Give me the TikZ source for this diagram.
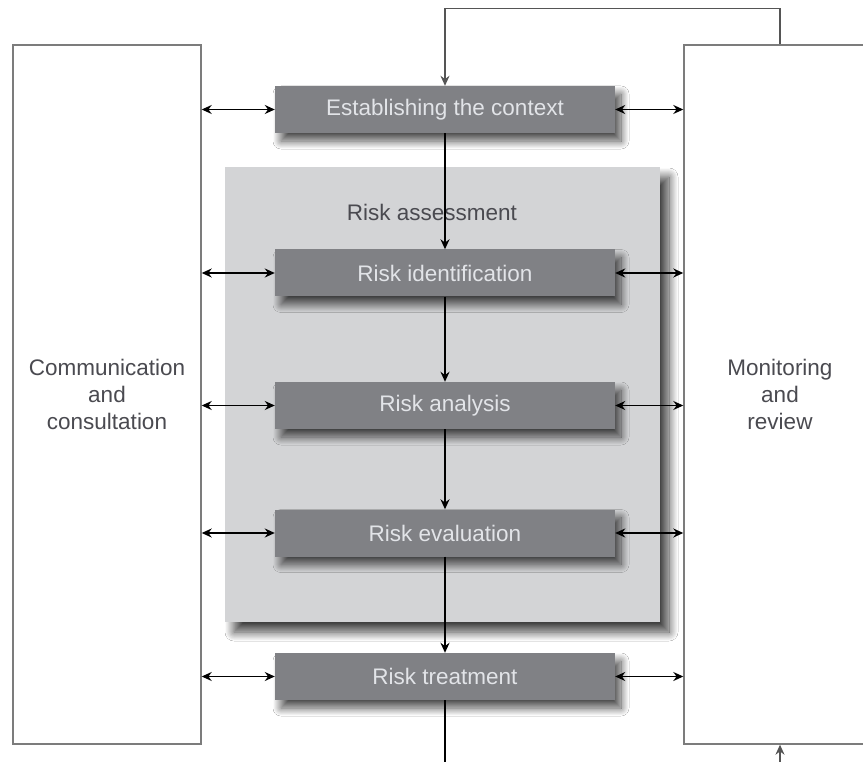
\documentclass[tikz,border=0pt]{standalone}
\usepackage{fontspec}
\setmainfont{Liberation Sans}
\usetikzlibrary{shadows.blur,arrows.meta}
\definecolor{boxgrey}{HTML}{808185}
\definecolor{bggrey}{HTML}{D3D4D6}
\definecolor{boxtext}{HTML}{E2E4E8}
\definecolor{outtext}{HTML}{4A4A50}
\definecolor{framegrey}{HTML}{7C7C7C}
\definecolor{fbgrey}{HTML}{555555}
\begin{document}
\begin{tikzpicture}[x=1pt,y=-1pt,
  stepbox/.style={fill=boxgrey, text=boxtext, minimum width=340pt, minimum height=47pt,
    inner sep=0pt, font=\fontsize{22.5}{26}\selectfont,
    blur shadow={shadow xshift=6pt, shadow yshift=-8pt, shadow blur radius=8pt, shadow blur steps=16,
      shadow blur extra rounding=0pt, shadow opacity=70}},
  bgbox/.style={fill=bggrey, minimum width=435pt, minimum height=455pt, inner sep=0pt,
    blur shadow={shadow xshift=9pt, shadow yshift=-10pt, shadow blur radius=9pt, shadow blur steps=16,
      shadow blur extra rounding=0pt, shadow opacity=75}},
  sidebox/.style={draw=framegrey, line width=1.4pt, fill=white, align=center, text=outtext,
    minimum height=699pt, inner sep=0pt, font=\fontsize{22.5}{27}\selectfont},
  tip/.tip={Stealth[length=10pt,width=9pt]},
  biarrow/.style={tip-tip, line width=1.6pt, black},
  downarrow/.style={-tip, line width=1.6pt, black},
  fbline/.style={fbgrey, line width=1.2pt},
]
\useasboundingbox (0,0) rectangle (863,762);
\clip (0,0) rectangle (863,762);
\fill[white] (0,0) rectangle (863,762);

% side boxes
\node[sidebox, minimum width=188pt] (comm) at (107,394.5) {Communication\\and\\consultation};
\node[sidebox, minimum width=192pt] (mon) at (780,394.5) {Monitoring\\and\\review};

% risk assessment background
\node[bgbox] (ra) at (442.5,394.5) {};
\node[text=outtext, font=\fontsize{22.5}{26}\selectfont] (ratitle) at (432,212) {Risk assessment};

% steps
\node[stepbox] (est) at (445,109.5) {Establishing the context};
\node[stepbox] (ident) at (445,273) {Risk identification};
\node[stepbox] (anal) at (445,405.5) {Risk analysis};
\node[stepbox] (eval) at (445,533) {Risk evaluation};
\node[stepbox] (treat) at (445,676.5) {Risk treatment};

% vertical flow
\draw[downarrow] (est.south) -- (ident.north);
\draw[downarrow] (ident.south) -- (anal.north);
\draw[downarrow] (anal.south) -- (eval.north);
\draw[downarrow] (eval.south) -- (treat.north);
\coordinate (botout) at (445,762);
\draw[line width=1.4pt, black] (treat.south) -- (botout);

% side arrows
\foreach \n in {est,ident,anal,eval,treat}{
  \draw[biarrow] (comm.east |- \n) -- (\n.west);
  \draw[biarrow] (\n.east) -- (mon.west |- \n);
}

% feedback loop
\draw[fbline, -tip] (mon.north) -- ++(0,-36) -| (est.north);
\coordinate (botin) at (780,762);
\draw[fbline, -tip] (botin) -- (mon.south);
\end{tikzpicture}
\end{document}
